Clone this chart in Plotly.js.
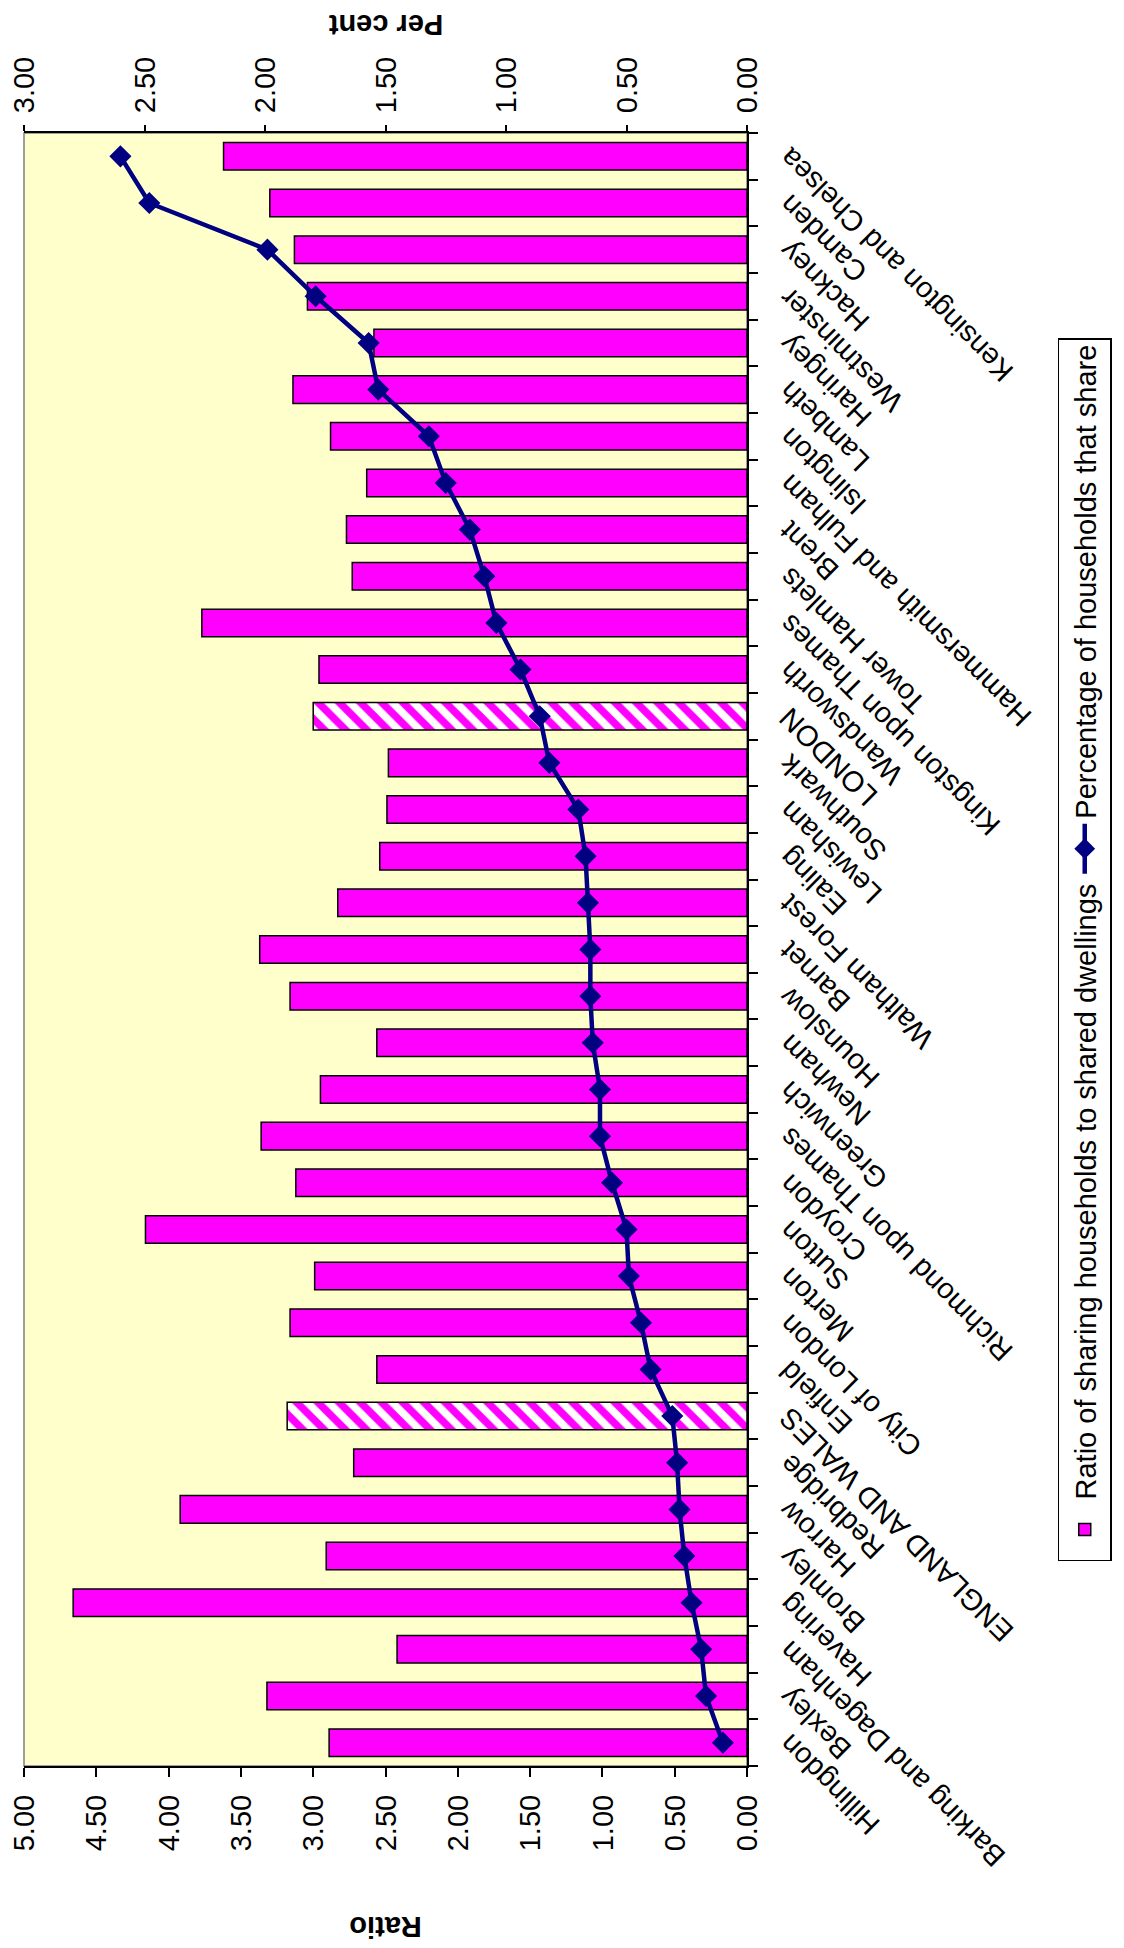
<!DOCTYPE html>
<html>
<head>
<meta charset="utf-8">
<script src="https://cdn.plot.ly/plotly-3.0.1.min.js"></script>
<style>
  html, body { margin: 0; padding: 0; background: #ffffff; }
  #wrap { position: relative; width: 1124px; height: 1948px; overflow: hidden; background: #ffffff; }
  #chart { position: absolute; left: 0; top: 0; width: 1948px; height: 1124px;
           transform-origin: 0 0; transform: translate(0px, 1948px) rotate(-90deg); }
</style>
</head>
<body>
<div id="wrap"><div id="chart"></div></div>
<script>
// Categories, left to right in the unrotated chart (bottom to top in the picture)
const categories = [
  'Hillingdon', 'Bexley', 'Barking and Dagenham', 'Havering', 'Bromley', 'Harrow',
  'Redbridge', 'ENGLAND AND WALES', 'Enfield', 'City of London', 'Merton', 'Sutton',
  'Croydon', 'Richmond upon Thames', 'Greenwich', 'Newham', 'Hounslow', 'Barnet',
  'Waltham Forest', 'Ealing', 'Lewisham', 'Southwark', 'LONDON', 'Wandsworth',
  'Kingston upon Thames', 'Tower Hamlets', 'Brent', 'Hammersmith and Fulham',
  'Islington', 'Lambeth', 'Haringey', 'Westminster', 'Hackney', 'Camden',
  'Kensington and Chelsea'
];
// Ratio of sharing households to shared dwellings
const ratioValues = [
  2.89, 3.32, 2.42, 4.66, 2.91, 3.92,
  2.72, 3.18, 2.56, 3.16, 2.99, 4.16,
  3.12, 3.36, 2.95, 2.56, 3.16, 3.37,
  2.83, 2.54, 2.49, 2.48, 3.00, 2.96,
  3.77, 2.73, 2.77, 2.63,
  2.88, 3.14, 2.58, 3.04, 3.13, 3.30,
  3.62
];
// Percentage of households that share
const percentValues = [
  0.10, 0.17, 0.19, 0.23, 0.26, 0.28,
  0.29, 0.31, 0.40, 0.44, 0.49, 0.50,
  0.56, 0.61, 0.61, 0.64, 0.65, 0.65,
  0.66, 0.67, 0.70, 0.82, 0.86, 0.94,
  1.04, 1.09, 1.15, 1.25,
  1.32, 1.53, 1.57, 1.79, 1.99, 2.48,
  2.60
];
// Aggregate rows drawn with a hatched fill
const aggregateCategories = ['LONDON', 'ENGLAND AND WALES'];
const ratioTickLabels = ['0.00','0.50','1.00','1.50','2.00','2.50','3.00','3.50','4.00','4.50','5.00'];
const percentTickLabels = ['0.00','0.50','1.00','1.50','2.00','2.50','3.00'];

const seriesNames = ['Ratio of sharing households to shared dwellings', 'Percentage of households that share'];
const axisTitles = { left: 'Ratio', right: 'Per cent' };

const MAGENTA = '#FF00FF';
const NAVY = '#000080';
const FONT = 'Liberation Sans, Arial, sans-serif';
const FS = 29;

const isAgg = categories.map(c => aggregateCategories.includes(c));

const barTrace = {
  type: 'bar',
  name: seriesNames[0],
  x: categories,
  y: ratioValues,
  yaxis: 'y',
  marker: {
    color: MAGENTA,
    line: { color: '#000000', width: 1.5 },
    pattern: {
      shape: isAgg.map(a => a ? '/' : ''),
      fgcolor: MAGENTA,
      bgcolor: isAgg.map(a => a ? '#FFFFFF' : MAGENTA),
      size: 15,
      solidity: 0.5
    }
  },
  hoverinfo: 'skip'
};

const lineTrace = {
  type: 'scatter',
  mode: 'lines+markers',
  name: seriesNames[1],
  x: categories,
  y: percentValues,
  yaxis: 'y2',
  line: { color: NAVY, width: 4.5 },
  marker: { symbol: 'diamond', size: 17, color: NAVY, line: { width: 0 } },
  hoverinfo: 'skip'
};

const ratioTickVals = ratioTickLabels.map(Number);
const percentTickVals = percentTickLabels.map(Number);

const tickFont = { family: FONT, size: FS, color: '#000000' };

const layout = {
  width: 1948,
  height: 1124,
  margin: { l: 182, r: 133, t: 24, b: 367, pad: 0 },
  paper_bgcolor: '#FFFFFF',
  plot_bgcolor: '#FFFFCC',
  bargap: 0.41,
  showlegend: true,
  font: { family: FONT, size: FS, color: '#000000' },
  xaxis: {
    type: 'category',
    categoryorder: 'array',
    categoryarray: categories,
    range: [-0.5, categories.length - 0.5],
    tickangle: -45,
    tickson: 'boundaries',
    ticks: 'outside',
    ticklen: 9,
    tickwidth: 2,
    tickcolor: '#000000',
    showline: true,
    linecolor: '#000000',
    linewidth: 2,
    showgrid: false,
    zeroline: false,
    tickfont: tickFont,
    ticklabelstandoff: 12,
    automargin: false,
    fixedrange: true
  },
  xaxis2: {
    overlaying: 'x',
    anchor: 'y',
    side: 'bottom',
    type: 'linear',
    range: [-0.5, categories.length - 0.5],
    tick0: -0.5,
    dtick: 1,
    ticks: 'inside',
    ticklen: 9,
    tickwidth: 2,
    tickcolor: '#000000',
    showticklabels: false,
    showline: false,
    showgrid: false,
    zeroline: false,
    automargin: false
  },
  yaxis: {
    range: [0, 5],
    tickvals: ratioTickVals,
    ticktext: ratioTickLabels,
    ticks: 'outside',
    ticklen: 9,
    tickwidth: 2,
    tickcolor: '#000000',
    showline: true,
    linecolor: '#000000',
    linewidth: 2,
    showgrid: false,
    zeroline: false,
    tickfont: tickFont,
    ticklabelstandoff: 12,
    automargin: false,
    fixedrange: true
  },
  yaxis3: {
    overlaying: 'y',
    side: 'left',
    anchor: 'x',
    range: [0, 5],
    tickvals: ratioTickVals,
    ticks: 'inside',
    ticklen: 9,
    tickwidth: 2,
    tickcolor: '#000000',
    showticklabels: false,
    showline: false,
    showgrid: false,
    zeroline: false,
    automargin: false
  },
  yaxis2: {
    overlaying: 'y',
    side: 'right',
    anchor: 'x',
    range: [0, 3],
    tickvals: percentTickVals,
    ticktext: percentTickLabels,
    ticks: 'outside',
    ticklen: 6,
    tickwidth: 2,
    tickcolor: '#000000',
    showline: true,
    linecolor: '#000000',
    linewidth: 2,
    showgrid: false,
    zeroline: false,
    tickfont: tickFont,
    ticklabelstandoff: 6,
    automargin: false,
    fixedrange: true
  },
  yaxis4: {
    overlaying: 'y',
    side: 'right',
    anchor: 'x',
    range: [0, 3],
    tickvals: percentTickVals,
    ticks: 'inside',
    ticklen: 9,
    tickwidth: 2,
    tickcolor: '#000000',
    showticklabels: false,
    showline: false,
    showgrid: false,
    zeroline: false,
    automargin: false
  },
  legend: {
    orientation: 'h',
    x: 0.5,
    xanchor: 'center',
    y: -0.43,
    yanchor: 'top',
    bgcolor: '#FFFFFF',
    bordercolor: '#000000',
    borderwidth: 1.5,
    font: { family: FONT, size: FS, color: '#000000' },
    itemwidth: 50,
    traceorder: 'normal'
  },
  shapes: [
    { type: 'rect', xref: 'paper', yref: 'paper', x0: 0, x1: 1, y0: 0, y1: 1,
      line: { color: '#808080', width: 1.5 }, layer: 'below' }
  ],
  annotations: [
    { text: '<b>' + axisTitles.left + '</b>', xref: 'paper', yref: 'paper',
      x: -0.099, y: 0.5, xanchor: 'center', yanchor: 'middle', textangle: -90,
      showarrow: false, font: { family: FONT, size: FS, color: '#000000' } },
    { text: '<b>' + axisTitles.right + '</b>', xref: 'paper', yref: 'paper',
      x: 1.066, y: 0.5, xanchor: 'center', yanchor: 'middle', textangle: -90,
      showarrow: false, font: { family: FONT, size: FS, color: '#000000' } }
  ]
};

Plotly.newPlot('chart', [barTrace, lineTrace], layout, { staticPlot: true, displayModeBar: false, responsive: false });
</script>
</body>
</html>
